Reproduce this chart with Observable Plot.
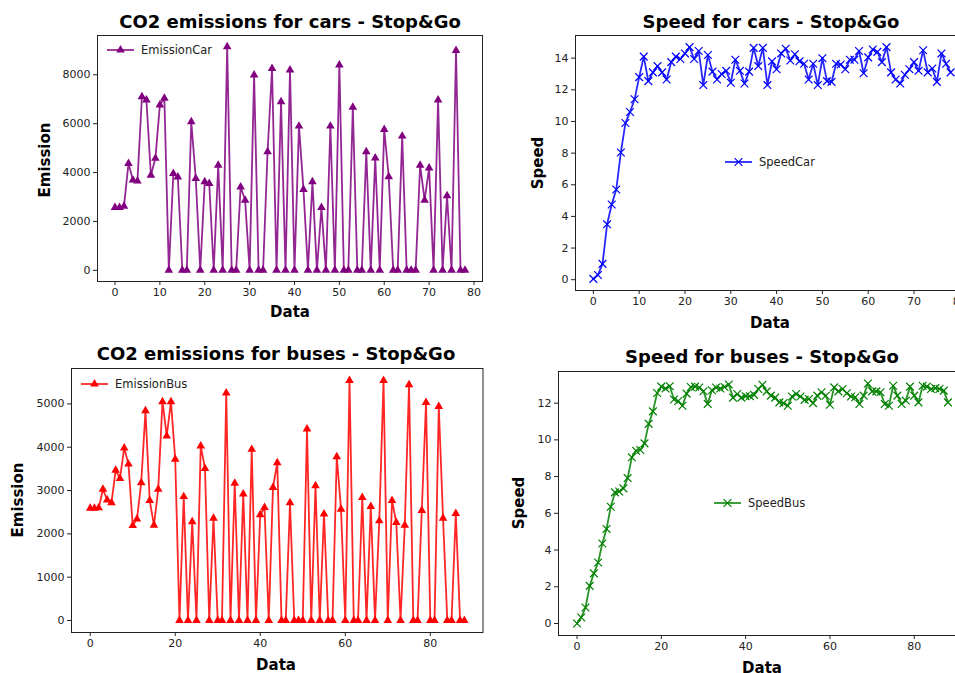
<!DOCTYPE html>
<html><head><meta charset="utf-8">
<script src="https://cdn.jsdelivr.net/npm/d3@7"></script>
<script src="https://cdn.jsdelivr.net/npm/@observablehq/plot@0.6"></script>
<style>
html,body{margin:0;padding:0;background:#fff;overflow:hidden;}
#root{position:relative;width:955px;height:673px;overflow:hidden;font-family:"DejaVu Sans",sans-serif;color:#000;}
.abs{position:absolute;}
.title{font-weight:bold;font-size:18px;white-space:nowrap;transform:translate(-50%,-50%);line-height:1;}
.xl{font-weight:bold;font-size:15px;white-space:nowrap;transform:translate(-50%,-50%);line-height:1;}
.yl{font-weight:bold;font-size:15px;white-space:nowrap;transform:translate(-50%,-50%) rotate(-90deg);line-height:1;}
.leg{font-size:11.5px;display:flex;align-items:center;white-space:nowrap;color:#222;transform:translateY(-50%);}
.leg svg{margin-right:7px;overflow:visible;}
</style></head><body><div id="root"></div>
<script>
// ---------- data ----------
const carEmission = [2570,2570,2620,4370,3690,3650,7100,6970,3890,4580,
  6760,7040,0,3960,3820,0,0,6080,3760,0,
  3620,3550,0,4300,0,9150,0,0,3410,2870,
  0,7990,0,0,4850,8260,0,6900,0,8200,
  0,5900,3310,0,3620,0,2570,0,5900,0,
  8400,0,0,6670,0,0,4850,0,4600,0,
  5760,3830,0,0,5490,0,0,0,4300,2870,
  4190,0,6970,0,3050,0,8990,0,0];
const carSpeed = [0.05,0.3,1.0,3.5,4.75,5.7,8.04,9.9,10.6,11.4,
  12.8,14.1,12.55,13.1,13.5,13.1,12.65,13.75,14.1,13.95,
  14.3,14.7,13.95,14.45,12.3,14.2,13.15,12.65,13.0,13.2,
  12.45,13.9,13.2,12.4,13.15,14.65,13.5,14.65,12.3,13.8,
  13.3,14.3,14.6,13.85,14.25,13.8,13.65,12.65,13.65,12.3,
  14.0,12.55,12.5,13.65,13.6,13.3,13.9,13.9,14.45,13.05,
  14.05,14.55,14.4,13.75,14.7,13.1,12.65,12.4,12.95,13.3,
  13.75,13.2,14.5,13.1,13.35,12.5,14.3,13.65,13.1];
const busEmission = [2590,2590,2600,3030,2780,2720,3470,3280,3980,3610,
  2190,2340,3180,4840,2770,2200,3030,5050,4260,5050,
  3720,0,2860,0,2280,0,4030,3510,0,2360,
  0,0,5250,0,3170,0,2920,0,3950,0,
  2440,2610,0,3070,3640,0,0,2720,0,0,
  0,4420,0,3110,0,2460,0,0,3780,2570,
  0,5540,0,0,2840,0,2630,0,2300,5540,
  0,2770,2260,0,2200,5440,0,0,2540,5030,
  0,0,4940,2360,0,0,2470,0,0];
const busSpeed = [0.0,0.33,0.87,2.05,2.73,3.32,4.36,5.15,6.36,7.14,
  7.19,7.36,7.92,9.05,9.41,9.45,9.81,10.87,11.55,12.55,
  12.9,12.8,12.92,12.2,12.12,11.86,12.52,12.88,12.9,12.85,
  12.65,11.96,12.7,12.85,12.8,12.88,13.02,12.3,12.5,12.3,
  12.38,12.38,12.45,12.77,13.0,12.64,12.41,12.3,12.04,12.0,
  11.86,12.36,12.5,12.36,12.18,12.23,12.0,12.41,12.59,12.4,
  11.91,12.86,12.64,12.77,12.54,12.36,12.32,11.95,12.41,13.07,
  12.64,12.64,12.59,11.95,11.86,12.95,12.41,11.95,12.14,12.9,
  12.41,12.04,12.95,12.9,12.77,12.82,12.77,12.68,12.04];

const carXTicks = [0,10,20,30,40,50,60,70,80];
const busXTicks = [0,20,40,60,80];
const carEmissionYTicks = [0,2000,4000,6000,8000];
const carSpeedYTicks = [0,2,4,6,8,10,12,14];
const busEmissionYTicks = [0,1000,2000,3000,4000,5000];
const busSpeedYTicks = [0,2,4,6,8,10,12];

const titles = ["CO2 emissions for cars - Stop&Go","Speed for cars - Stop&Go",
                "CO2 emissions for buses - Stop&Go","Speed for buses - Stop&Go"];
const seriesNames = ["EmissionCar","SpeedCar","EmissionBus","SpeedBus"];
const yLabels = ["Emission","Speed","Emission","Speed"];
const xLabel = "Data";
const colors = ["#800080","#0000ff","#ff0000","#008000"];

// ---------- layout ----------
const root = document.getElementById("root");
const panels = [
  {values: carEmission, xTicks: carXTicks, yTicks: carEmissionYTicks, marker: "triangle",
   left: 0, top: 0, w: 500, h: 330, mL: 97, mR: 18, mT: 35, mB: 49,
   title: [290, 22], xl: [290, 312], yl: [45, 160], leg: [107, 50]},
  {values: carSpeed, xTicks: carXTicks, yTicks: carSpeedYTicks, marker: "times",
   left: 520, top: 0, w: 480, h: 340, mL: 55, mR: 32, mT: 35, mB: 50,
   title: [771, 22], xl: [770, 323], yl: [538, 163], leg: [725, 162]},
  {values: busEmission, xTicks: busXTicks, yTicks: busEmissionYTicks, marker: "triangle",
   left: 0, top: 340, w: 500, h: 320, mL: 71, mR: 17.5, mT: 28, mB: 28,
   title: [276, 354], xl: [276, 665], yl: [18, 500], leg: [81, 384]},
  {values: busSpeed, xTicks: busXTicks, yTicks: busSpeedYTicks, marker: "times",
   left: 500, top: 340, w: 500, h: 333, mL: 58, mR: 34, mT: 31, mB: 38,
   title: [762, 357], xl: [762, 668], yl: [519, 503], leg: [714, 503]}
];

function addText(cls, txt, x, y) {
  const d = document.createElement("div");
  d.className = "abs " + cls;
  d.textContent = txt;
  d.style.left = x + "px"; d.style.top = y + "px";
  root.appendChild(d);
}

panels.forEach((p, k) => {
  const color = colors[k];
  const data = p.values.map((v, i) => ({i, v}));
  const ext = d3.extent(p.values);
  const pad = (ext[1] - ext[0]) * 0.05;
  const n = p.values.length - 1;
  const marks = [
    Plot.frame({stroke: "#222", strokeWidth: 1}),
    Plot.line(data, {x: "i", y: "v", stroke: color, strokeWidth: 1.8, strokeOpacity: 0.85})
  ];
  if (p.marker === "triangle") {
    marks.push(Plot.dot(data, {x: "i", y: "v", symbol: "triangle", fill: color, r: 3.2}));
  } else {
    marks.push(Plot.dot(data, {x: "i", y: "v", symbol: "times", stroke: color, fill: "none", strokeWidth: 1.2, r: 3.6}));
  }
  const svg = Plot.plot({
    width: p.w, height: p.h,
    marginLeft: p.mL, marginRight: p.mR, marginTop: p.mT, marginBottom: p.mB,
    style: {fontFamily: '"DejaVu Sans", sans-serif', fontSize: "11px", color: "#222",
            background: "transparent", maxWidth: "none", overflow: "visible"},
    x: {domain: [-n * 0.05, n * 1.05], ticks: p.xTicks, tickSize: 4, tickPadding: 3, tickFormat: "d", label: null},
    y: {domain: [ext[0] - pad, ext[1] + pad], ticks: p.yTicks, tickSize: 4, tickPadding: 3, tickFormat: "d", label: null},
    marks
  });
  svg.style.position = "absolute";
  svg.style.left = p.left + "px";
  svg.style.top = p.top + "px";
  root.appendChild(svg);

  addText("title", titles[k], p.title[0], p.title[1]);
  addText("xl", xLabel, p.xl[0], p.xl[1]);
  addText("yl", yLabels[k], p.yl[0], p.yl[1]);

  // legend
  const lg = document.createElement("div");
  lg.className = "abs leg";
  lg.style.left = p.leg[0] + "px"; lg.style.top = p.leg[1] + "px";
  const s = d3.create("svg").attr("width", 27).attr("height", 12);
  s.append("line").attr("x1", 0).attr("x2", 27).attr("y1", 6).attr("y2", 6)
    .attr("stroke", color).attr("stroke-width", 1.8).attr("stroke-opacity", 0.85);
  if (p.marker === "triangle") {
    s.append("path").attr("transform", "translate(13.5,6)")
      .attr("d", d3.symbol(d3.symbolTriangle, Math.PI * 3.2 * 3.2)()).attr("fill", color);
  } else {
    s.append("path").attr("transform", "translate(13.5,6)")
      .attr("d", d3.symbol(d3.symbolTimes, Math.PI * 3.6 * 3.6)()).attr("stroke", color)
      .attr("fill", "none").attr("stroke-width", 1.2);
  }
  lg.appendChild(s.node());
  const t = document.createElement("span");
  t.textContent = seriesNames[k];
  lg.appendChild(t);
  root.appendChild(lg);
});
</script></body></html>
